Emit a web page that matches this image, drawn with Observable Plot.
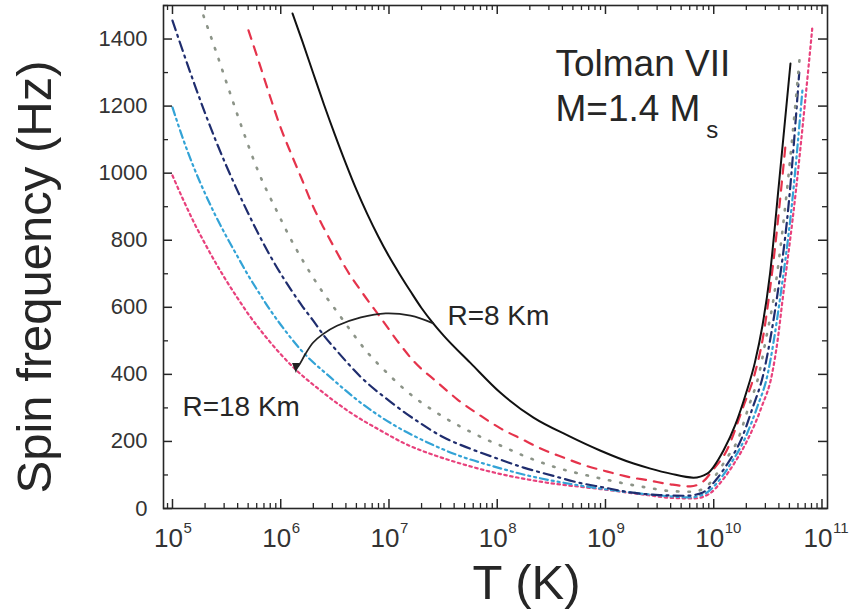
<!DOCTYPE html>
<html>
<head>
<meta charset="utf-8">
<script src="https://cdn.jsdelivr.net/npm/d3@7"></script>
<script src="https://cdn.jsdelivr.net/npm/@observablehq/plot@0.6"></script>
<style>
  html, body { margin: 0; padding: 0; background: #fff; }
  #chart svg { display: block; }
</style>
</head>
<body>
<div id="chart"></div>
<script>
// ---- Data (log10 of T in K, spin frequency in Hz) ----
const logT_R8  = [6.109, 6.2, 6.3, 6.4, 6.5, 6.6, 6.7, 6.8, 6.9, 7.0, 7.1, 7.2, 7.3, 7.414, 7.507, 7.75, 8.03, 8.335, 8.65, 8.95, 9.26, 9.416, 9.6, 9.813, 9.94, 10.09, 10.2, 10.3, 10.38, 10.45, 10.52, 10.6, 10.709];
const nu_R8    = [1476, 1393, 1298, 1204, 1115, 1030, 950, 878, 812, 752, 698, 647, 598, 550, 515, 435, 345, 271, 218, 173, 134, 119, 104, 92, 104, 173, 250, 345, 435, 545, 700, 960, 1327];

const logT_R10 = [5.702, 5.8, 5.9, 6.0, 6.1, 6.2, 6.3, 6.4, 6.5, 6.6, 6.75, 6.92, 7.1, 7.226, 7.448, 7.633, 7.845, 8.03, 8.233, 8.427, 8.612, 8.815, 9.018, 9.23, 9.397, 9.6, 9.785, 9.9, 10.0, 10.12, 10.27, 10.38, 10.45, 10.53, 10.665];
const nu_R10   = [1426, 1330, 1230, 1135, 1055, 978, 900, 835, 775, 717, 645, 570, 490, 440, 376, 325, 277, 239, 206, 175, 152, 128, 110, 93, 84, 72, 66, 80, 118, 173, 301, 403, 501, 680, 1090];

const logT_R12 = [5.286, 5.4, 5.52, 5.65, 5.80, 5.97, 6.09, 6.21, 6.367, 6.524, 6.67, 6.81, 6.94, 7.06, 7.17, 7.29, 7.41, 7.54, 7.66, 7.77, 7.89, 8.0, 8.24, 8.49, 8.95, 9.39, 9.6, 9.8, 9.92, 10.02, 10.12, 10.22, 10.32, 10.42, 10.48, 10.55, 10.66, 10.80];
const nu_R12   = [1470, 1365, 1250, 1128, 999, 883, 805, 736, 655, 585, 520, 462, 418, 380, 348, 318, 292, 266, 244, 226, 207, 192, 158, 128, 90, 62, 52, 50, 62, 100, 150, 203, 301, 403, 501, 620, 900, 1366];

const logT_R14 = [5.0, 5.1, 5.2, 5.3, 5.4, 5.5, 5.6, 5.7, 5.8, 5.9, 6.0, 6.1, 6.2, 6.3, 6.4, 6.524, 6.737, 7.014, 7.245, 7.494, 7.753, 8.0, 8.243, 8.51, 8.74, 8.98, 9.23, 9.5, 9.75, 9.9, 10.02, 10.13, 10.25, 10.36, 10.46, 10.52, 10.58, 10.69, 10.79];
const nu_R14   = [1455, 1360, 1268, 1180, 1097, 1020, 948, 880, 815, 755, 700, 650, 603, 560, 515, 468, 393, 318, 264, 214, 178, 149, 122, 98, 78, 63, 48, 40, 38, 48, 85, 135, 203, 301, 403, 501, 620, 900, 1300];

const logT_R16 = [5.0, 5.1, 5.2, 5.3, 5.4, 5.5, 5.6, 5.7, 5.8, 5.9, 6.0, 6.2, 6.46, 6.737, 7.04, 7.356, 7.642, 7.94, 8.3, 8.7, 9.1, 9.5, 9.78, 9.92, 10.04, 10.16, 10.28, 10.40, 10.50, 10.555, 10.61, 10.72, 10.82];
const nu_R16   = [1196, 1100, 1015, 940, 872, 810, 752, 695, 643, 593, 548, 468, 391, 316, 250, 197, 158, 128, 97, 72, 53, 39, 33, 44, 80, 135, 203, 301, 403, 501, 620, 900, 1250];

const logT_R18 = [5.0, 5.1, 5.2, 5.3, 5.4, 5.5, 5.6, 5.7, 5.8, 5.9, 6.0, 6.136, 6.367, 6.644, 6.92, 7.17, 7.356, 7.54, 7.725, 7.91, 8.4, 8.95, 9.39, 9.6, 9.82, 9.96, 10.07, 10.19, 10.31, 10.44, 10.54, 10.59, 10.635, 10.76, 10.84, 10.91];
const nu_R18   = [993, 920, 852, 790, 732, 678, 628, 580, 537, 497, 460, 415, 352, 286, 233, 190, 166, 146, 128, 112, 80, 58, 40, 32, 30, 44, 80, 135, 203, 301, 403, 501, 620, 950, 1200, 1431];

// annotation arrow (from the R=8 Km curve to the R=18 Km curve)
const arrowLogT = [7.41, 7.2, 6.97, 6.74, 6.52, 6.39, 6.30, 6.23, 6.17, 6.14];
const arrowNu   = [552, 575, 582, 570, 545, 520, 495, 462, 428, 416];

// ticks and labels
const xTickExponents = [5, 6, 7, 8, 9, 10, 11];
const yTickLabels = [0, 200, 400, 600, 800, 1000, 1200, 1400];
const yMinorTicks = [100, 300, 500, 700, 900, 1100, 1300, 1500];

// ---- Layout ----
const W = 849, H = 613;
const mL = 163, mR = 22, mT = 5, mB = 105;
const innerH = H - mT - mB;
const innerW = W - mL - mR;
const xDomain = [10 ** 4.917, 10 ** 11.051];

const pts = (logs, nus) => logs.map((l, i) => ({T: 10 ** l, nu: nus[i]}));

const xMajor = xTickExponents.map(e => 10 ** e);
const xMinor = [];
for (let k = 4; k <= 10; k++) for (let m = 2; m <= 9; m++) {
  const v = m * 10 ** k;
  if (v > xDomain[0] && v < xDomain[1]) xMinor.push(v);
}

const ink = "#262626";
const font = "Liberation Sans, Arial, Helvetica, sans-serif";

const downTriangle = {
  draw(ctx) {
    ctx.moveTo(0, 4);
    ctx.lineTo(-3.8, -6);
    ctx.lineTo(3.8, -6);
    ctx.closePath();
  }
};

const chart = Plot.plot({
  width: W, height: H,
  marginLeft: mL, marginRight: mR, marginTop: mT, marginBottom: mB,
  style: {fontFamily: font, background: "#fff", color: ink},
  x: {type: "log", domain: xDomain, axis: null},
  y: {domain: [0, 1500], axis: null},
  marks: [
    // curves
    Plot.line(pts(logT_R18, nu_R18), {x: "T", y: "nu", stroke: "#e8417c", strokeWidth: 2.2, strokeDasharray: "2.5,3.5", curve: "monotone-x", clip: true}),
    Plot.line(pts(logT_R16, nu_R16), {x: "T", y: "nu", stroke: "#33a3d6", strokeWidth: 2.2, strokeDasharray: "8,4,2,4,2,4", curve: "monotone-x", clip: true}),
    Plot.line(pts(logT_R14, nu_R14), {x: "T", y: "nu", stroke: "#1f2d6e", strokeWidth: 2.2, strokeDasharray: "10,5,2,5", curve: "monotone-x", clip: true}),
    Plot.line(pts(logT_R12, nu_R12), {x: "T", y: "nu", stroke: "#8c9488", strokeWidth: 2.6, strokeDasharray: "1.5,10", strokeLinecap: "round", curve: "monotone-x", clip: true}),
    Plot.line(pts(logT_R10, nu_R10), {x: "T", y: "nu", stroke: "#e5334b", strokeWidth: 2.2, strokeDasharray: "9,8", curve: "monotone-x", clip: true}),
    Plot.line(pts(logT_R8, nu_R8), {x: "T", y: "nu", stroke: "#111", strokeWidth: 2, curve: "monotone-x", clip: true}),

    // arrow
    Plot.line(pts(arrowLogT, arrowNu), {x: "T", y: "nu", stroke: "#222", strokeWidth: 1.8, curve: "catmull-rom"}),
    Plot.dot(pts([arrowLogT[arrowLogT.length - 1]], [arrowNu[arrowNu.length - 1]]), {x: "T", y: "nu", symbol: downTriangle, fill: "#222", stroke: "none", r: 4}),

    // annotations
    Plot.text(["Tolman VII"], {x: 10 ** 8.538, y: 1291, text: d => d, textAnchor: "start", lineAnchor: "bottom", fontSize: 37, fill: ink}),
    Plot.text(["M=1.4 M"], {x: 10 ** 8.538, y: 1157, text: d => d, textAnchor: "start", lineAnchor: "bottom", fontSize: 37, fill: ink}),
    Plot.text(["s"], {x: 10 ** 9.93, y: 1106, text: d => d, textAnchor: "start", lineAnchor: "bottom", fontSize: 24, fill: ink}),
    Plot.text(["R=8 Km"], {x: 10 ** 7.54, y: 546, text: d => d, textAnchor: "start", lineAnchor: "bottom", fontSize: 28, fill: ink}),
    Plot.text(["R=18 Km"], {x: 10 ** 5.092, y: 277, text: d => d, textAnchor: "start", lineAnchor: "bottom", fontSize: 28, fill: ink}),

    // frame and inward ticks
    Plot.frame({stroke: ink, strokeWidth: 1.6}),
    Plot.ruleX(xMajor, {x: d => d, insetTop: innerH - 9, stroke: ink, strokeWidth: 1.5}),
    Plot.ruleX(xMinor, {x: d => d, insetTop: innerH - 5, stroke: ink, strokeWidth: 1.3}),
    Plot.ruleX(xMajor, {x: d => d, insetBottom: innerH - 9, stroke: ink, strokeWidth: 1.5}),
    Plot.ruleX(xMinor, {x: d => d, insetBottom: innerH - 5, stroke: ink, strokeWidth: 1.3}),
    Plot.ruleY(yTickLabels, {y: d => d, insetRight: innerW - 9, stroke: ink, strokeWidth: 1.5}),
    Plot.ruleY(yMinorTicks, {y: d => d, insetRight: innerW - 5, stroke: ink, strokeWidth: 1.3}),
    Plot.ruleY(yTickLabels, {y: d => d, insetLeft: innerW - 9, stroke: ink, strokeWidth: 1.5}),
    Plot.ruleY(yMinorTicks, {y: d => d, insetLeft: innerW - 5, stroke: ink, strokeWidth: 1.3}),

    // y tick labels
    Plot.text(yTickLabels, {y: d => d, frameAnchor: "left", dx: -16, text: d => String(d), textAnchor: "end", lineAnchor: "middle", fontSize: 22, fill: "#333"}),
    // x tick labels 10^n
    Plot.text(xTickExponents, {x: d => 10 ** d, frameAnchor: "bottom", dx: -4, dy: 38, text: () => "10", textAnchor: "middle", lineAnchor: "bottom", fontSize: 26, fill: "#333"}),
    Plot.text(xTickExponents, {x: d => 10 ** d, frameAnchor: "bottom", dx: 11, dy: 24, text: d => String(d), textAnchor: "start", lineAnchor: "bottom", fontSize: 15, fill: "#333"}),

    // axis titles
    Plot.text(["T (K)"], {frameAnchor: "bottom", dx: 31, dy: 90, text: d => d, textAnchor: "middle", lineAnchor: "bottom", fontSize: 49, fill: ink}),
    Plot.text(["Spin frequency (Hz)"], {frameAnchor: "left", dx: -128, dy: 20, rotate: -90, text: d => d, textAnchor: "middle", lineAnchor: "middle", fontSize: 49, fill: ink})
  ]
});

document.getElementById("chart").appendChild(chart);
</script>
</body>
</html>
